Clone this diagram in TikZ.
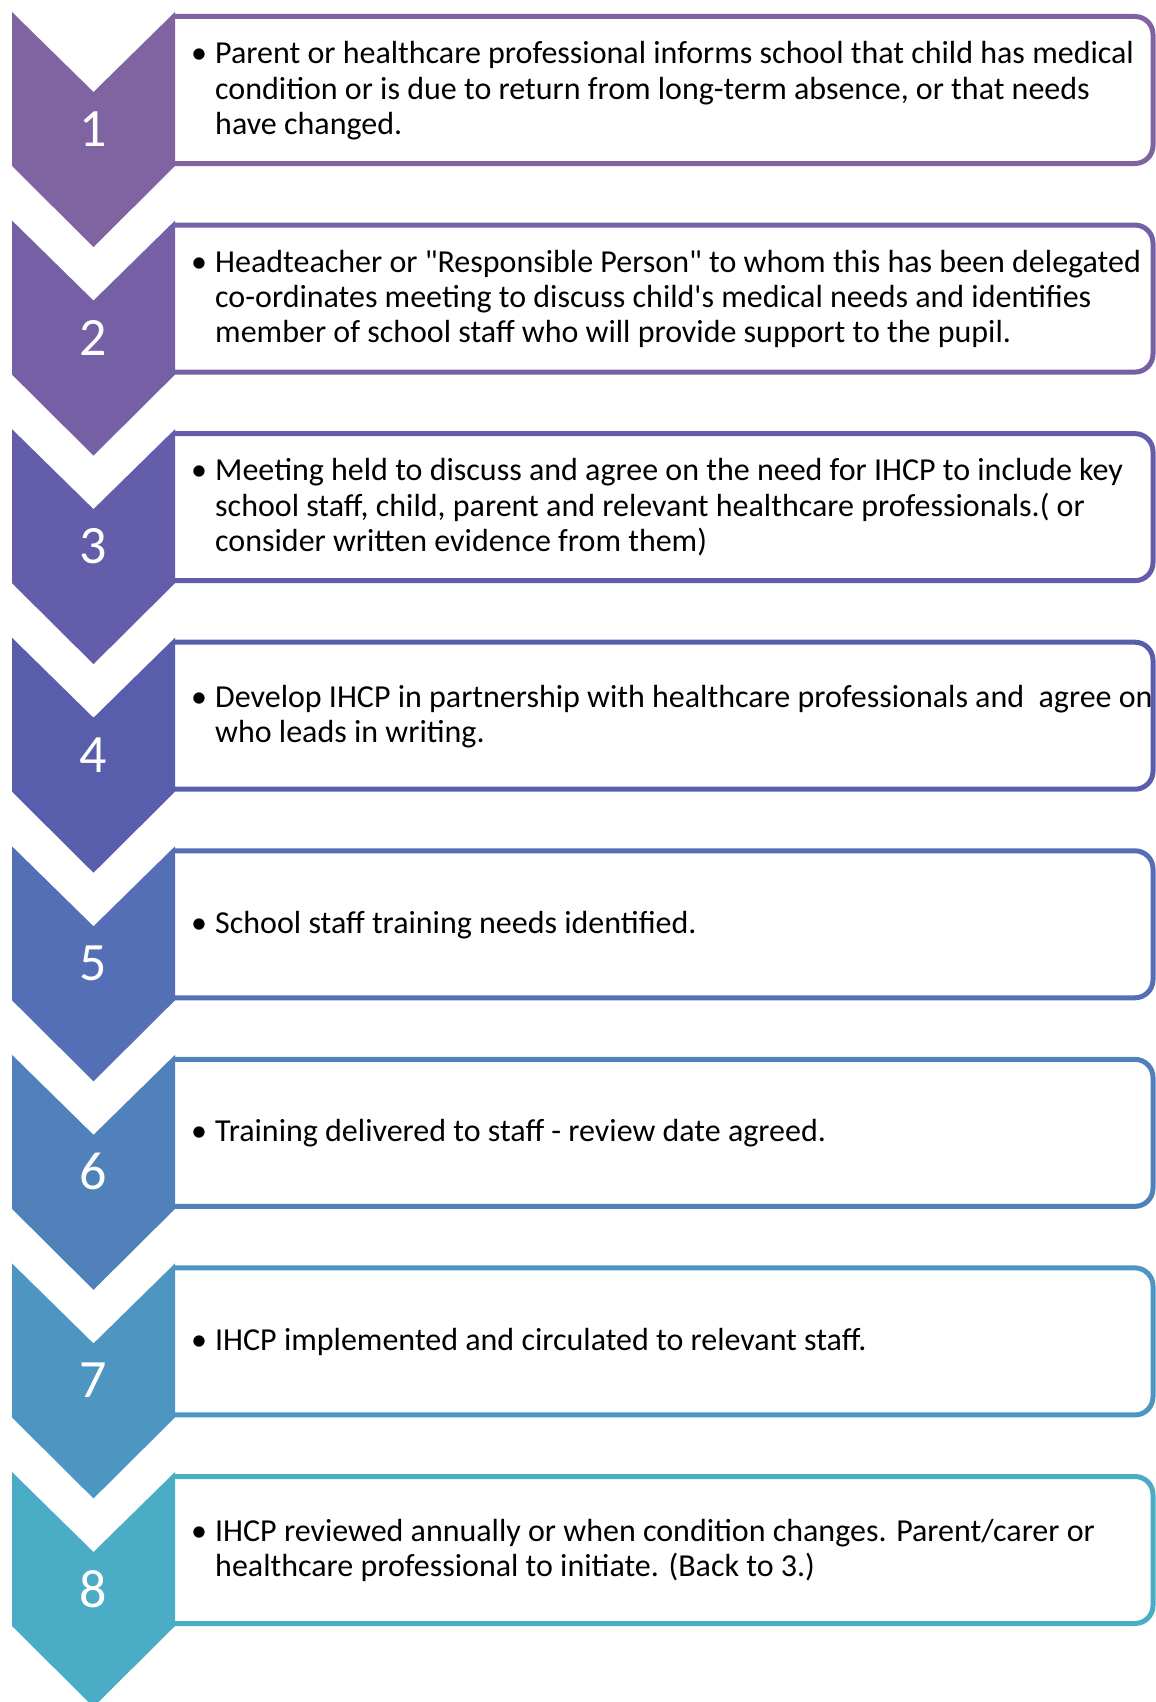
\documentclass[tikz,border=0pt]{standalone}
\usepackage{fontspec}
\setmainfont{Carlito}
\definecolor{c1}{RGB}{128,100,162}
\definecolor{c2}{RGB}{117,96,166}
\definecolor{c3}{RGB}{100,93,170}
\definecolor{c4}{RGB}{89,94,172}
\definecolor{c5}{RGB}{84,111,181}
\definecolor{c6}{RGB}{80,129,187}
\definecolor{c7}{RGB}{77,150,193}
\definecolor{c8}{RGB}{75,172,198}
\begin{document}
\begin{tikzpicture}[x=1pt,y=-1pt,
  boxst/.style={draw=#1,line width=5pt,rounded corners=18pt,fill=white},
  chevst/.style={fill=#1},
  num/.style={text=white,font=\fontsize{54}{54}\selectfont,inner sep=0pt},
  txt/.style={anchor=west,align=left,font=\fontsize{32}{35.3}\selectfont,inner sep=0pt}]
\useasboundingbox (0,0) rectangle (1156,1702);
\foreach \i/\t in {
 1/{Parent or healthcare professional informs school that child has medical\\ & condition or is due to return from long-term absence, or that needs\\ & have changed.},
 2/{Headteacher or \textquotedbl Responsible Person\textquotedbl{} to whom this has been delegated\\ & co-ordinates meeting to discuss child\textquotesingle s medical needs and identifies\\ & member of school staff who will provide support to the pupil.},
 3/{Meeting held to discuss and agree on the need for IHCP to include key\\ & school staff, child, parent and relevant healthcare professionals.( or\\ & consider written evidence from them)},
 4/{Develop IHCP in partnership with healthcare professionals and \ agree on\\ & who leads in writing.},
 5/{School staff training needs identified.},
 6/{Training delivered to staff - review date agreed.},
 7/{IHCP implemented and circulated to relevant staff.},
 8/{IHCP reviewed annually or when condition changes. Parent/carer or\\ & healthcare professional to initiate. (Back to 3.)}}{
  \pgfmathsetmacro\T{12+(\i-1)*208.57}
  \coordinate (box\i) at (175,\T+4.5);
  \filldraw[boxst=c\i] (box\i) -- (1153,\T+4.5) -- (1153,\T+151.5) -- (175,\T+151.5);
  \fill[chevst=c\i] (12,\T) -- (93.5,\T+80) -- (175,\T) -- (175,\T+154)
     -- (93.5,\T+235) -- (12,\T+154) -- cycle;
  \node[num] (num\i) at (93.5,\T+117) {\i};
  \node[txt] (txt\i) at (191,\T+80)
    {\begin{tabular}{@{}l@{}l@{}}\makebox[24pt][l]{\textbullet} & \t\end{tabular}};
}
\end{tikzpicture}
\end{document}
